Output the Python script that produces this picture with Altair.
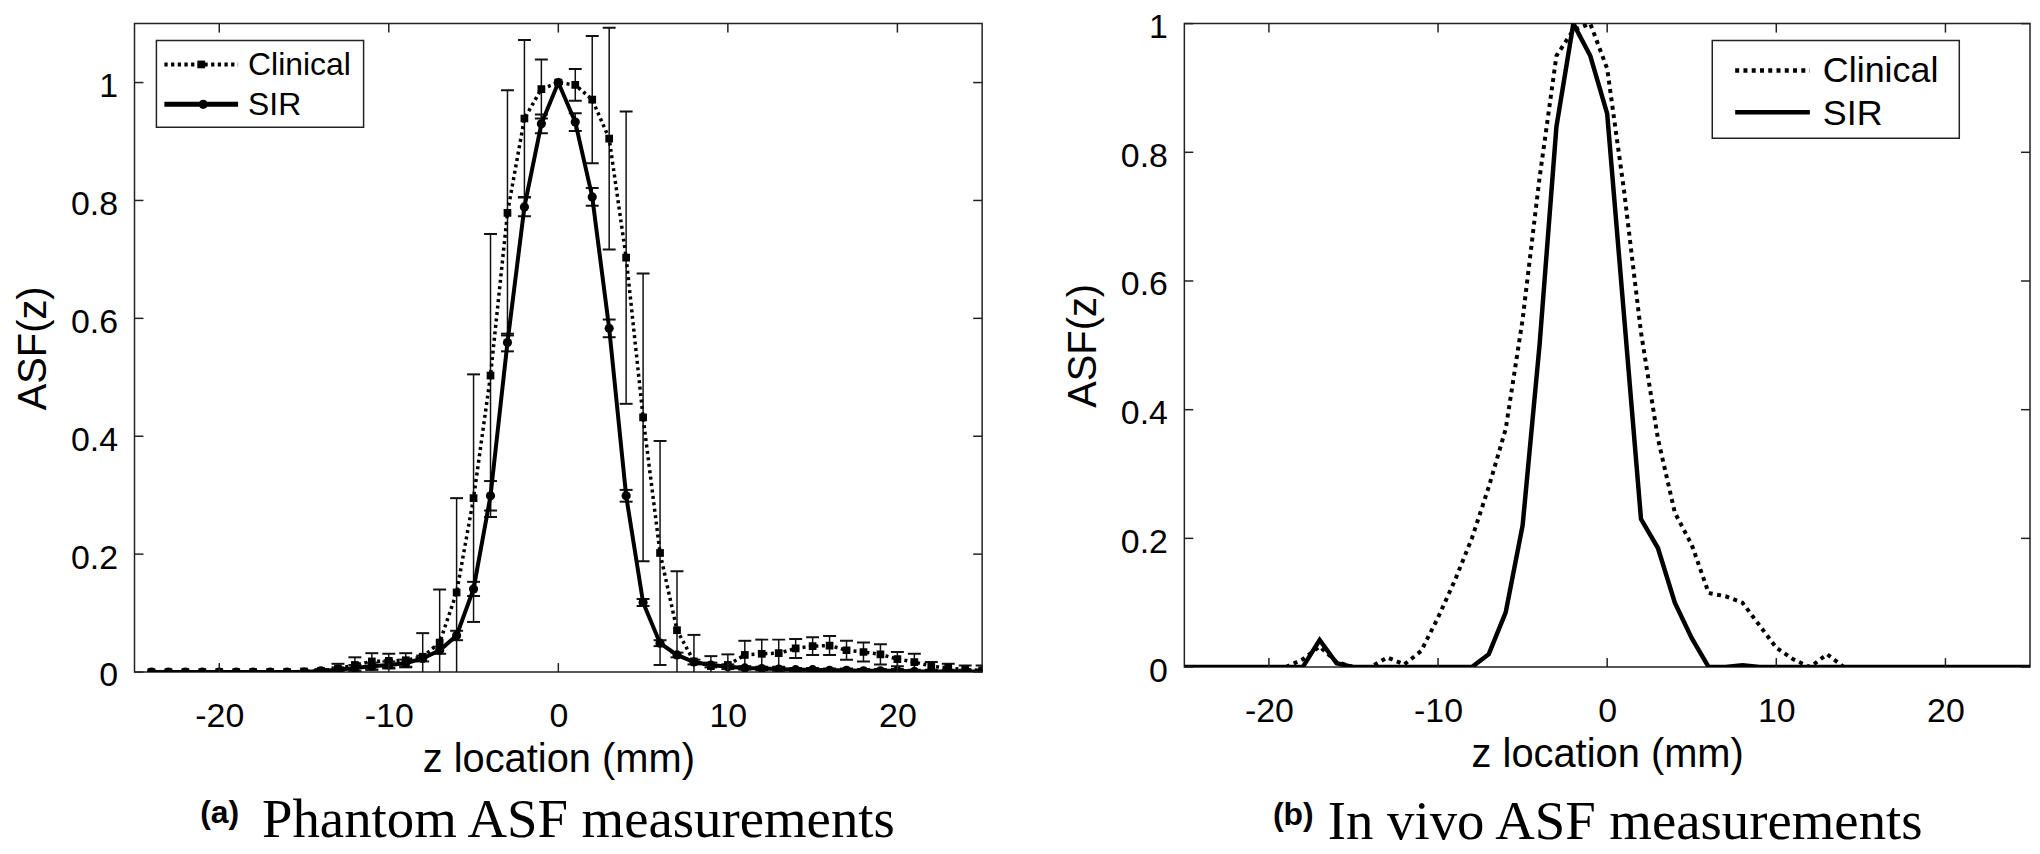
import altair as alt
import pandas as pd

# ---------------- data: (a) phantom ASF ----------------
z_a = list(range(-24, 26))
clinical_a = [0, 0, 0, 0, 0, 0, 0, 0, 0,
              0.001, 0.002, 0.006, 0.012, 0.018, 0.019, 0.02, 0.026, 0.05, 0.135,
              0.295, 0.503, 0.779, 0.939, 0.989, 1.0, 0.996, 0.971, 0.905, 0.703,
              0.432, 0.202, 0.071, 0.018, 0.01, 0.012, 0.029, 0.031, 0.032, 0.04,
              0.044, 0.045, 0.037, 0.034, 0.03, 0.022, 0.017, 0.01, 0.007, 0.004, 0.003]
clinical_a_err = [0, 0, 0, 0, 0, 0, 0, 0, 0,
                  0.001, 0.003, 0.008, 0.013, 0.014, 0.012, 0.012, 0.04, 0.09, 0.16,
                  0.21, 0.24, 0.208, 0.133, 0.05, 0.0, 0.027, 0.108, 0.188, 0.248,
                  0.244, 0.19, 0.10, 0.045, 0.017, 0.018, 0.024, 0.024, 0.023, 0.016,
                  0.015, 0.016, 0.016, 0.016, 0.017, 0.012, 0.014, 0.007, 0.007, 0.007, 0.008]
sir_a = [0, 0, 0, 0, 0, 0, 0, 0, 0, 0,
         0.002, 0.004, 0.007, 0.010, 0.012, 0.015, 0.023, 0.037, 0.062, 0.141,
         0.299, 0.559, 0.789, 0.930, 1.0, 0.933, 0.806, 0.583, 0.299, 0.118,
         0.049, 0.029, 0.017, 0.012, 0.009, 0.007, 0.006, 0.005, 0.004, 0.004,
         0.003, 0.003, 0.002, 0.002, 0.002, 0.001, 0.001, 0.001, 0.001, 0.001]
sir_a_err = [0, 0, 0, 0, 0, 0, 0, 0, 0, 0,
             0.002, 0.004, 0.005, 0.006, 0.006, 0.006, 0.005, 0.006, 0.008, 0.012,
             0.025, 0.015, 0.016, 0.016, 0.0, 0.015, 0.015, 0.015, 0.01, 0.006,
             0.005, 0.004, 0.004, 0.004, 0.004, 0.003, 0.003, 0.003, 0.003, 0.003,
             0.003, 0.003, 0.003, 0.003, 0.003, 0.003, 0.003, 0.003, 0.003, 0.003]

# ---------------- data: (b) in vivo ASF ----------------
z_b = list(range(-25, 26))
clinical_b = [0, 0, 0, 0, 0, 0, 0,
              0.012, 0.032, 0.008, 0, 0, 0.015, 0.004, 0.025, 0.077, 0.135, 0.20,
              0.28, 0.37, 0.54, 0.76, 0.95, 0.99, 1.0, 0.93, 0.74, 0.52, 0.355,
              0.24, 0.19, 0.115, 0.11, 0.10, 0.065, 0.03, 0.012, 0.0, 0.02, 0.0,
              0, 0, 0, 0, 0, 0, 0, 0, 0, 0, 0]
sir_b = [0, 0, 0, 0, 0, 0, 0,
         0, 0.042, 0.006, 0, 0, 0, 0, 0, 0, 0, 0,
         0.02, 0.085, 0.22, 0.50, 0.84, 1.0, 0.95, 0.86, 0.545, 0.23, 0.185,
         0.10, 0.045, 0.0, 0.0, 0.003, 0.0, 0, 0, 0, 0, 0,
         0, 0, 0, 0, 0, 0, 0, 0, 0, 0, 0]

x_ticks = [-20, -10, 0, 10, 20]
y_ticks = [0, 0.2, 0.4, 0.6, 0.8, 1.0]
series_names = ["Clinical", "SIR"]

SANS = "Liberation Sans"
SERIF = "Liberation Serif"
INK = "#111111"
TICK_LEN = 9

one_row = pd.DataFrame({"k": [0]})


def axes(ymax):
    xaxis = alt.Axis(values=x_ticks,
                     labelExpr="datum.value < 0 ? '-' + abs(datum.value) : '' + datum.value",
                     ticks=False, tickSize=0, domain=False, grid=False,
                     labelFont=SANS, labelFontSize=34, labelColor="black",
                     labelBaseline="alphabetic", labelPadding=55,
                     labelFlush=False, labelOverlap=False,
                     titleFont=SANS, titleFontSize=40, titleFontWeight="normal",
                     titleColor="black", titleBaseline="alphabetic", titleY=100)
    yaxis = alt.Axis(values=y_ticks, format="~g",
                     ticks=False, tickSize=0, domain=False, grid=False,
                     labelFont=SANS, labelFontSize=34, labelColor="black",
                     labelPadding=17, labelOffset=4, labelOverlap=False, labelFlush=False,
                     titleFont=SANS, titleFontSize=40, titleFontWeight="normal",
                     titleColor="black", titleBaseline="alphabetic", titleX=-89)
    xs = alt.Scale(domain=[-25, 25], nice=False, zero=False)
    ys = alt.Scale(domain=[0, ymax], nice=False, zero=False)

    def X(field):
        return alt.X(f"{field}:Q", scale=xs, axis=xaxis, title="z location (mm)")

    def Y(field):
        return alt.Y(f"{field}:Q", scale=ys, axis=yaxis, title="ASF(z)")
    return X, Y


def frame_ticks(X, Y, W, H):
    xt = pd.DataFrame({"z": x_ticks})
    yt = pd.DataFrame({"value": y_ticks})
    rule = dict(color="#222222", strokeWidth=1.5)
    return [
        alt.Chart(xt).mark_rule(**rule).encode(x=X("z"), y=alt.value(H), y2=alt.value(H - TICK_LEN)),
        alt.Chart(xt).mark_rule(**rule).encode(x=X("z"), y=alt.value(0), y2=alt.value(TICK_LEN)),
        alt.Chart(yt).mark_rule(**rule).encode(y=Y("value"), x=alt.value(0), x2=alt.value(TICK_LEN)),
        alt.Chart(yt).mark_rule(**rule).encode(y=Y("value"), x=alt.value(W), x2=alt.value(W - TICK_LEN)),
    ]


def errorbars(df, X, Y):
    base = alt.Chart(df).transform_filter("datum.err > 0").transform_calculate(
        lo="datum.value - datum.err", hi="datum.value + datum.err")
    return [
        base.mark_rule(color=INK, strokeWidth=1.5, clip=True).encode(x=X("z"), y=Y("lo"), y2="hi:Q"),
        base.mark_tick(orient="horizontal", size=13, thickness=2, color=INK, clip=True,
                       opacity=1).encode(x=X("z"), y=Y("lo")),
        base.mark_tick(orient="horizontal", size=13, thickness=2, color=INK, clip=True,
                       opacity=1).encode(x=X("z"), y=Y("hi")),
    ]


def legend(box, entries, font_size):
    x0, x1, y0, y1 = box
    layers = [alt.Chart(one_row).mark_rect(fill="white", stroke="#222222", strokeWidth=1.5).encode(
        x=alt.value(x0), x2=alt.value(x1), y=alt.value(y0), y2=alt.value(y1))]
    for e in entries:
        line_kw = dict(color="black", strokeWidth=e["width"])
        if e.get("dash"):
            line_kw["strokeDash"] = e["dash"]
        layers.append(alt.Chart(one_row).mark_rule(**line_kw).encode(
            x=alt.value(e["lx0"]), x2=alt.value(e["lx1"]), y=alt.value(e["ly"])))
        if e.get("shape"):
            layers.append(alt.Chart(one_row).mark_point(
                shape=e["shape"], filled=True, size=e["msize"], color="black", opacity=1).encode(
                x=alt.value(e["mx"]), y=alt.value(e["ly"])))
        layers.append(alt.Chart(one_row).mark_text(
            font=SANS, fontSize=font_size, align="left", baseline="alphabetic", color="black").encode(
            x=alt.value(e["tx"]), y=alt.value(e["ty"]), text=alt.value(e["label"])))
    return layers


def caption(tag, text, tag_xy, text_xy):
    return [
        alt.Chart(one_row).mark_text(font=SANS, fontSize=32, fontWeight="bold", align="left",
                                     baseline="alphabetic", color="black").encode(
            x=alt.value(tag_xy[0]), y=alt.value(tag_xy[1]), text=alt.value(tag)),
        alt.Chart(one_row).mark_text(font=SERIF, fontSize=55, align="left",
                                     baseline="alphabetic", color="black").encode(
            x=alt.value(text_xy[0]), y=alt.value(text_xy[1]), text=alt.value(text)),
    ]


# ---------------- panel (a) ----------------
WA, HA = 851, 651
Xa, Ya = axes(1.1)
df_ac = pd.DataFrame({"z": z_a, "value": clinical_a, "err": clinical_a_err})
df_as = pd.DataFrame({"z": z_a, "value": sir_a, "err": sir_a_err})

layers_a = []
layers_a += errorbars(df_ac, Xa, Ya)
layers_a.append(alt.Chart(df_ac).mark_line(color="black", strokeWidth=3.5, strokeDash=[3, 3.5],
                                           clip=True).encode(x=Xa("z"), y=Ya("value")))
layers_a.append(alt.Chart(df_ac).mark_point(shape="square", filled=True, size=60, color="black",
                                            opacity=1, clip=True).encode(x=Xa("z"), y=Ya("value")))
layers_a += errorbars(df_as, Xa, Ya)
layers_a.append(alt.Chart(df_as).mark_line(color="black", strokeWidth=4, clip=True).encode(
    x=Xa("z"), y=Ya("value")))
layers_a.append(alt.Chart(df_as).mark_point(shape="circle", filled=True, size=85, color="black",
                                            opacity=1, clip=True).encode(x=Xa("z"), y=Ya("value")))
layers_a += frame_ticks(Xa, Ya, WA, HA)
layers_a += legend((22, 230, 17, 104), [
    dict(label=series_names[0], width=4, dash=[3.3, 3.4], lx0=30, lx1=104, ly=41,
         shape="square", msize=60, mx=67, tx=114, ty=52),
    dict(label=series_names[1], width=5, lx0=30, lx1=104, ly=81,
         shape="circle", msize=85, mx=69, tx=114, ty=92),
], 32)
layers_a += caption("(a)", "Phantom ASF measurements", (66, 803), (128, 817))

panel_a = alt.layer(*layers_a).properties(width=WA, height=HA)

# ---------------- panel (b) ----------------
WB, HB = 849, 646
Xb, Yb = axes(1.0)
df_bc = pd.DataFrame({"z": z_b, "value": clinical_b})
df_bs = pd.DataFrame({"z": z_b, "value": sir_b})

layers_b = [
    alt.Chart(df_bc).mark_line(color="black", strokeWidth=4, strokeDash=[4, 4.5], clip=True).encode(
        x=Xb("z"), y=Yb("value")),
    alt.Chart(df_bs).mark_line(color="black", strokeWidth=4.5, clip=True).encode(
        x=Xb("z"), y=Yb("value")),
]
layers_b += frame_ticks(Xb, Yb, WB, HB)
layers_b += legend((530, 778, 17, 115), [
    dict(label=series_names[0], width=4.5, dash=[4, 4.3], lx0=553, lx1=628, ly=47, tx=641, ty=59),
    dict(label=series_names[1], width=4.5, lx0=553, lx1=628, ly=89, tx=641, ty=102),
], 36)
layers_b += caption("(b)", "In vivo ASF measurements", (89, 805), (144, 819))

panel_b = alt.layer(*layers_b).properties(width=WB, height=HB)

chart = alt.hconcat(panel_a, panel_b, spacing=203, bounds="flush").properties(
    padding={"left": 5, "top": 0, "right": 0, "bottom": 0},
).configure(background="white").configure_view(stroke="#222222", strokeWidth=1.5)

chart.save("out.html", embed_options={"renderer": "svg", "actions": False})
